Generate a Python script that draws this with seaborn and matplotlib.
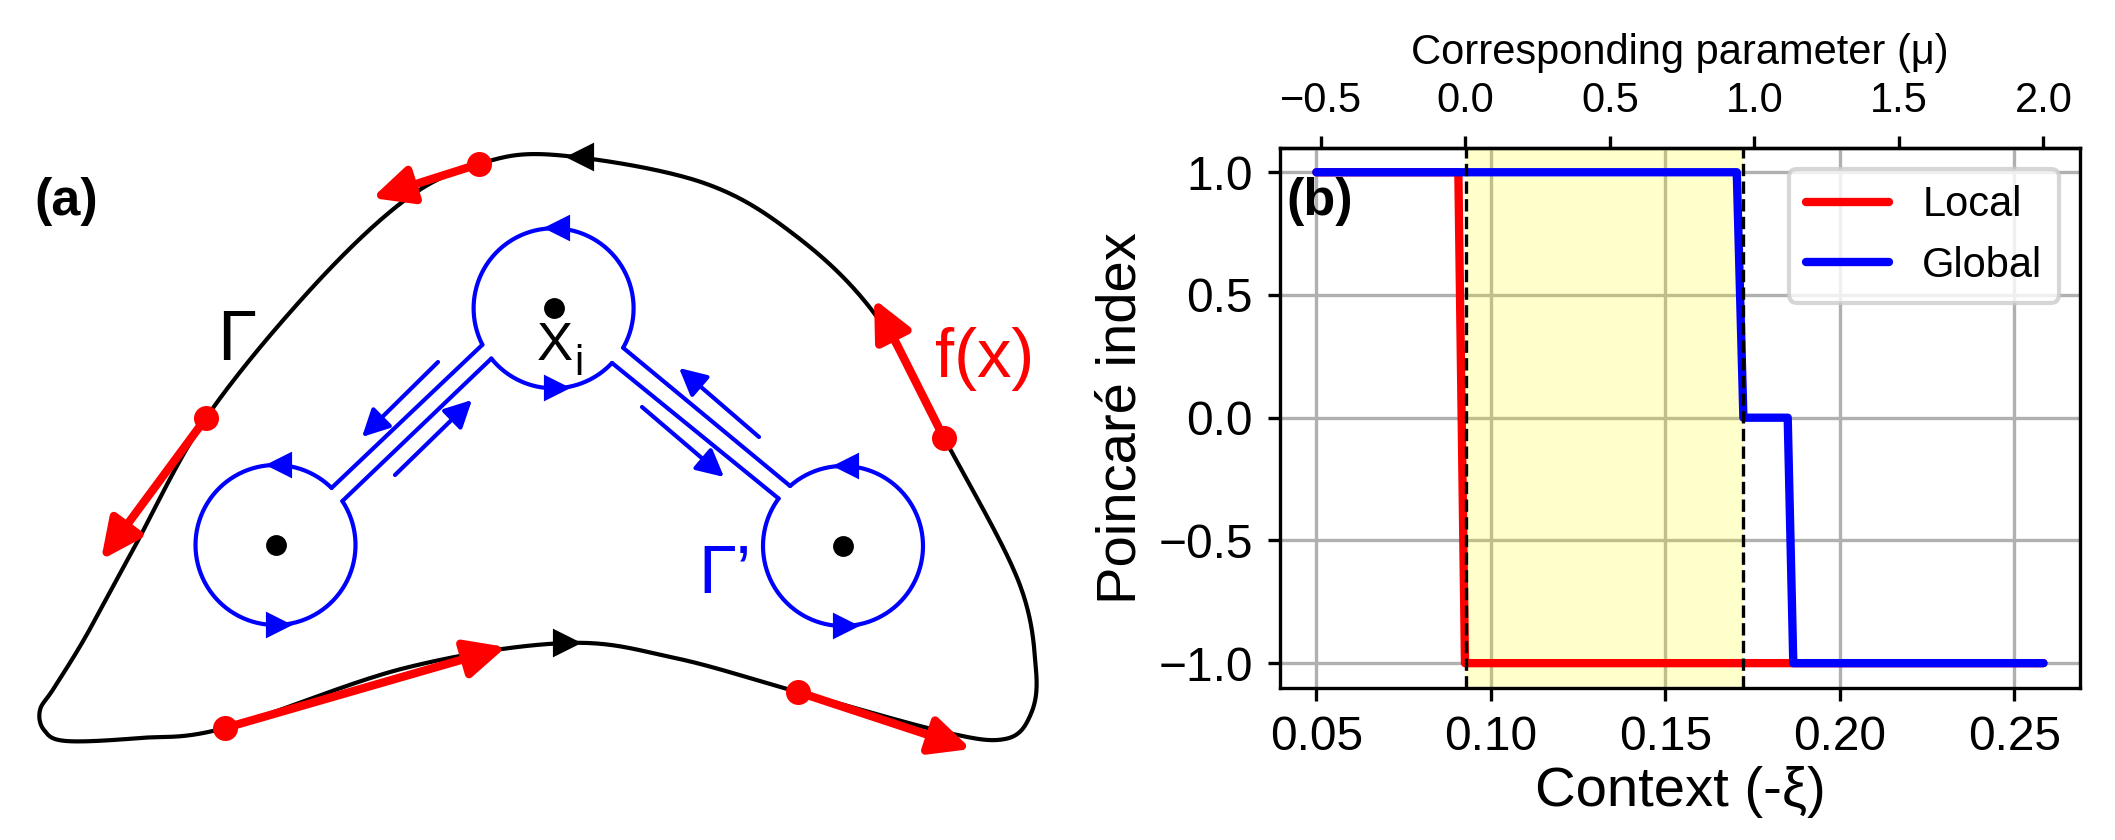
import numpy as np
import matplotlib
matplotlib.use("Agg")
import matplotlib.pyplot as plt
import seaborn as sns

# ---- panel (b) data: Poincare index vs context ----
xi_local = [0.050, 0.0907, 0.0926, 0.2584]
idx_local = [1, 1, -1, -1]
xi_global = [0.050, 0.1705, 0.1724, 0.1851, 0.1867, 0.2584]
idx_global = [1, 1, 0, 0, -1, -1]
bifurcations = [0.0930, 0.1724]
xi_ticks = [0.05, 0.10, 0.15, 0.20, 0.25]
idx_ticks = [-1.0, -0.5, 0.0, 0.5, 1.0]
mu_ticks = [-0.5, 0.0, 0.5, 1.0, 1.5, 2.0]
XI_AT_MU0 = 0.0927
MU_PER_XI = 12.07

# ---- panel (a) schematic geometry (pixel units, y down) ----
outer_pts = [(556, 155), (479, 164), (405, 200), (310, 290), (206, 418),
             (135, 546), (86, 636), (54, 688), (40, 710), (44, 730),
             (66, 741), (140, 738), (225, 728), (405, 668), (566, 643),
             (675, 658), (798, 692), (944, 732), (1005, 739), (1030, 716),
             (1036, 670), (1018, 580), (944, 438), (877, 317), (796, 236),
             (701, 182)]
fx_dots = [(479, 164), (206, 418), (225, 728), (798, 692), (944, 438)]
fx_tips = [(372, 198), (101, 560), (506, 647), (971, 749), (874, 299)]
centers = [(553.6, 308.3), (275.5, 545.0), (843.0, 546.0)]
radius = 80
arcs = [(0, 152.9, 389.6), (0, 43.1, 141.1), (1, -33.3, 314.5), (2, 228.6, 576.4)]
channels = [((0, 152.9), (1, 314.5)), ((0, 141.1), (1, -33.3)),
            ((0, 29.6), (2, 228.6)), ((0, 43.1), (2, 216.4))]
flow_starts = [(438, 362), (395, 475), (759, 437), (642, 407)]
flow_tips = [(362, 437), (472, 400), (679, 368), (724, 477)]


def closed_spline(pts, n=40):
    P = np.asarray(pts, float)
    m = len(P)
    t = np.linspace(0, 1, n, endpoint=False)[:, None]
    segs = []
    for i in range(m):
        p0, p1, p2, p3 = P[(i - 1) % m], P[i], P[(i + 1) % m], P[(i + 2) % m]
        segs.append(0.5 * (2 * p1 + (-p0 + p2) * t
                           + (2 * p0 - 5 * p1 + 4 * p2 - p3) * t ** 2
                           + (-p0 + 3 * p1 - 3 * p2 + p3) * t ** 3))
    segs.append(P[:1])
    return np.vstack(segs)


def on_circle(k, ang):
    cx, cy = centers[k]
    a = np.deg2rad(ang)
    return cx + radius * np.cos(a), cy + radius * np.sin(a)


def arrow(ax, start, end, color, lw, hl, hw):
    ax.annotate("", xy=end, xytext=start,
                arrowprops=dict(arrowstyle=f"-|>,head_length={hl},head_width={hw}",
                                color=color, lw=lw, shrinkA=0, shrinkB=0,
                                mutation_scale=10))


sns.set_style("ticks")
plt.rcParams["font.family"] = ["Liberation Sans", "DejaVu Sans"]
plt.rcParams.update({"axes.linewidth": 0.8, "text.color": "black",
                     "axes.labelcolor": "black", "axes.edgecolor": "black",
                     "xtick.color": "black", "ytick.color": "black"})

fig = plt.figure(figsize=(7.05, 2.8), dpi=300)

# ---------------- panel (a) ----------------
W = 1080
axa = fig.add_axes([0, 0, W / 2115, 1])
axa.set_xlim(0, W)
axa.set_ylim(840, 0)
axa.axis("off")

curve = closed_spline(outer_pts)
axa.plot(curve[:, 0], curve[:, 1], color="black", lw=1.0, zorder=1)
axa.plot([581], [157], marker="<", ms=5.5, color="black", zorder=2)
axa.plot([566], [643], marker=">", ms=5.5, color="black", zorder=2)

for k, a0, a1 in arcs:
    ang = np.linspace(a0, a1, 200)
    xs, ys = on_circle(k, ang)
    axa.plot(xs, ys, color="blue", lw=1.0)
for (k0, a0), (k1, a1) in channels:
    p0, p1 = on_circle(k0, a0), on_circle(k1, a1)
    axa.plot([p0[0], p1[0]], [p0[1], p1[1]], color="blue", lw=1.0)
for s, e in zip(flow_starts, flow_tips):
    arrow(axa, s, e, "blue", 1.0, 0.55, 0.28)
for cx, cy in centers:
    axa.plot([cx], [cy], "o", ms=4, color="black")
    axa.plot([cx + 4], [cy - radius], marker="<", ms=5, color="blue")
    axa.plot([cx + 2], [cy + radius], marker=">", ms=5, color="blue")

for d, t in zip(fx_dots, fx_tips):
    arrow(axa, d, t, "red", 2.0, 0.8, 0.38)
dx, dy = zip(*fx_dots)
axa.plot(dx, dy, "o", ms=5, color="red", zorder=5)

axa.text(217, 360, "Γ", fontsize=17)
axa.text(698, 593, "Γ’", fontsize=16.5, color="blue")
axa.text(935, 377, "f(x)", fontsize=16.5, color="red")
axa.text(537, 360, "X", fontsize=13)
axa.text(574, 375, "i", fontsize=10)

# ---------------- panel (b) ----------------
axb = fig.add_axes([1280 / 2115, 1 - 687.7 / 840,
                    (2079.8 - 1280) / 2115, (687.7 - 147.7) / 840])
axb.grid(True, color="#b0b0b0", lw=0.8, zorder=0)
axb.axvspan(bifurcations[0], bifurcations[1], color="yellow", alpha=0.2, lw=0, zorder=1)
sns.lineplot(x=xi_local, y=idx_local, color="red", lw=2.0, label="Local", ax=axb, zorder=2)
sns.lineplot(x=xi_global, y=idx_global, color="blue", lw=2.0, label="Global", ax=axb, zorder=2)
for b in bifurcations:
    axb.axvline(b, color="black", ls="--", lw=0.8, zorder=3)

axb.set_ylim(-1.1, 1.1)
axb.set_xticks(xi_ticks)
axb.set_yticks(idx_ticks)
axb.tick_params(labelsize=11.5, length=3, width=0.8, color="black")
axb.set_xlabel("Context (-ξ)", fontsize=13.5, labelpad=1.5)
axb.set_ylabel("Poincaré index", fontsize=13.5, labelpad=2.5)
for sp in axb.spines.values():
    sp.set_color("black")
    sp.set_linewidth(0.8)
axb.legend(loc="upper right", fontsize=10)

top = axb.secondary_xaxis("top", functions=(lambda x: (x - XI_AT_MU0) * MU_PER_XI,
                                            lambda m: m / MU_PER_XI + XI_AT_MU0))
top.set_xticks(mu_ticks)
top.tick_params(labelsize=10, length=3, width=0.8)
top.set_xlabel("Corresponding parameter (μ)", fontsize=10)

fig.text(34 / 2115, 1 - 202 / 840, "(a)", fontsize=12.5, fontweight="bold", va="center")
fig.text(1286 / 2115, 1 - 202 / 840, "(b)", fontsize=12.5, fontweight="bold", va="center")

fig.savefig("out.png", dpi=300)
